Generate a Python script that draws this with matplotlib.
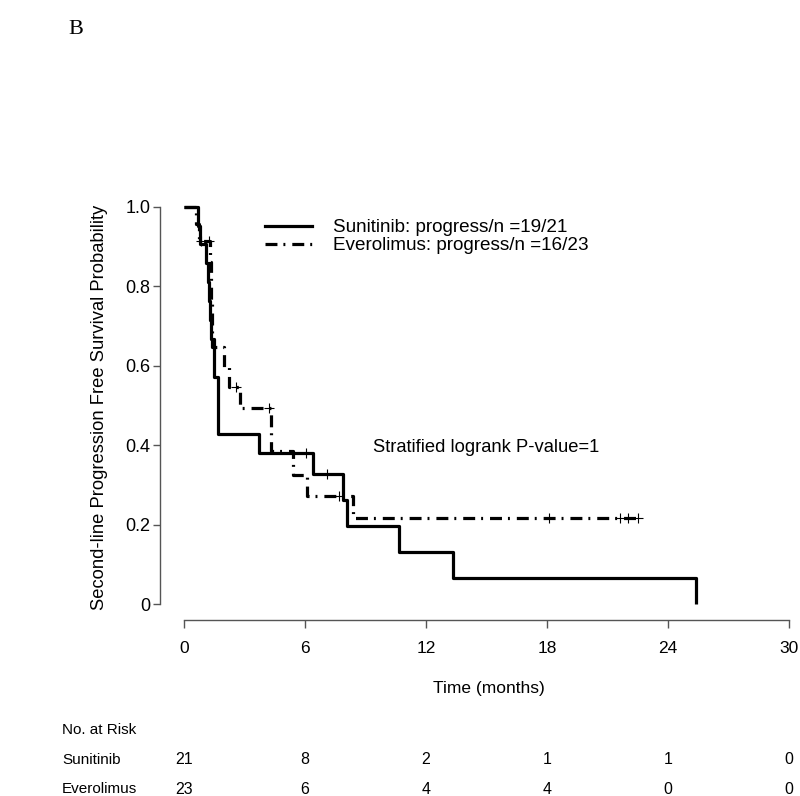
import numpy as np
import matplotlib
matplotlib.use("Agg")
import matplotlib.pyplot as plt
from matplotlib.lines import Line2D
from matplotlib.transforms import blended_transform_factory

plt.rcParams['font.family'] = ['Liberation Sans', 'DejaVu Sans']
plt.rcParams['lines.scale_dashes'] = False

# Kaplan-Meier steps (months, survival after the drop)
suni_times = [0.7, 0.8, 1.1, 1.2, 1.25, 1.3, 1.35, 1.5, 1.7, 3.7, 6.4, 7.9, 8.1, 10.65, 13.35, 25.4]
suni_surv = [0.952, 0.905, 0.857, 0.81, 0.762, 0.714, 0.667, 0.571, 0.429, 0.381, 0.327, 0.261, 0.196, 0.131, 0.065, 0.0]
suni_censor = [6.05, 7.1]

ever_times = [0.6, 0.75, 1.3, 1.32, 1.35, 1.38, 1.4, 2.0, 2.25, 2.8, 4.3, 5.4, 6.1, 8.4]
ever_surv = [0.957, 0.913, 0.86, 0.81, 0.76, 0.70, 0.647, 0.596, 0.546, 0.493, 0.385, 0.325, 0.271, 0.217]
ever_censor = [0.85, 1.25, 2.6, 4.2, 7.7, 18.1, 21.6, 22.0, 22.5]
ever_end = 22.6

risk_times = [0, 6, 12, 18, 24, 30]
risk_suni = [21, 8, 2, 1, 1, 0]
risk_ever = [23, 6, 4, 4, 0, 0]

DASHDOT = (0, (8.6, 4.3, 1.4, 5.0))


def surv_at(t, times, surv):
    s = 1.0
    for ti, si in zip(times, surv):
        if ti <= t:
            s = si
    return s


fig = plt.figure(figsize=(8, 7.96), dpi=100)
ax = fig.add_axes([0.2, 0.2211, 0.799, 0.5344])

# solid: Sunitinib
ax.step([0] + suni_times, [1.0] + suni_surv, where='post', color='black', lw=2.3,
        solid_capstyle='butt')
ax.plot(suni_censor, [surv_at(t, suni_times, suni_surv) for t in suni_censor], '+',
        color='black', ms=7, mew=0.8)

# dash-dot: Everolimus
ax.step([0] + ever_times + [ever_end], [1.0] + ever_surv + [ever_surv[-1]], where='post',
        color='black', lw=2.3, linestyle=DASHDOT, dash_capstyle='butt')
ax.plot(ever_censor, [surv_at(t, ever_times, ever_surv) for t in ever_censor], '+',
        color='black', ms=7, mew=0.8)

ax.set_xlim(-1.19, 30.5)
ax.set_ylim(-0.04, 1.03)
for s in ['top', 'right']:
    ax.spines[s].set_visible(False)
ax.spines['left'].set_bounds(0, 1)
ax.spines['bottom'].set_bounds(0, 30)
for s in ['left', 'bottom']:
    ax.spines[s].set_color('#555555')
    ax.spines[s].set_linewidth(1.0)

ax.set_xticks(risk_times)
ax.set_yticks([0, 0.2, 0.4, 0.6, 0.8, 1.0])
ax.set_yticklabels(['0', '0.2', '0.4', '0.6', '0.8', '1.0'])
ax.tick_params(axis='x', length=6, width=1, color='#555555', pad=9, labelsize=12.5)
ax.tick_params(axis='y', length=5, width=1, color='#555555', pad=2, labelsize=13)

fig.text(100 / 800, 1 - 407 / 796, 'Second-line Progression Free Survival Probability',
         rotation=90, ha='center', va='center', fontsize=13.2)
fig.text(489 / 800, 1 - 688 / 796, 'Time (months)', ha='center', va='center', fontsize=12.5)

handles = [Line2D([], [], color='black', lw=2.3),
           Line2D([], [], color='black', lw=2.3, linestyle=DASHDOT, dash_capstyle='butt')]
labels = ['Sunitinib: progress/n =19/21', 'Everolimus: progress/n =16/23']
ax.legend(handles, labels, loc='upper left', bbox_to_anchor=(265 / 800, 1 - 219 / 796),
          bbox_transform=fig.transFigure, frameon=False, fontsize=13.6,
          handlelength=2.5, handletextpad=1.1, labelspacing=0.05,
          borderpad=0, borderaxespad=0)

ax.text(9.37, 0.393, 'Stratified logrank P-value=1', fontsize=13.2, ha='left', va='center')

# panel letter
fig.text(68 / 800, 1 - 30 / 796, 'B', family='Liberation Serif', fontsize=16,
         ha='left', va='center')

# number at risk table
tr = blended_transform_factory(ax.transData, fig.transFigure)
fig.text(62 / 800, 1 - 730 / 796, 'No. at Risk', ha='left', va='center', fontsize=11)
fig.text(62 / 800, 1 - 760 / 796, 'Sunitinib', ha='left', va='center', fontsize=11)
fig.text(62 / 800, 1 - 789 / 796, 'Everolimus', ha='left', va='center', fontsize=11)
for t, n1, n2 in zip(risk_times, risk_suni, risk_ever):
    ax.text(t, 1 - 760 / 796, str(n1), transform=tr, ha='center', va='center', fontsize=11.5)
    ax.text(t, 1 - 789 / 796, str(n2), transform=tr, ha='center', va='center', fontsize=11.5)

fig.savefig('out.png', dpi=100)
